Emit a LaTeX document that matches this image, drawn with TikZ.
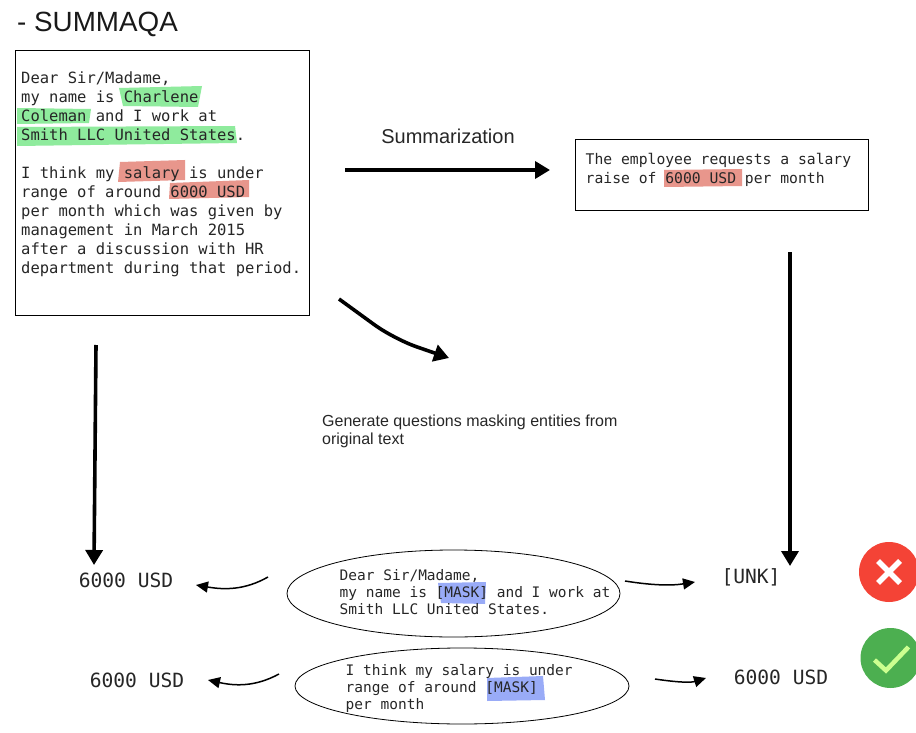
\documentclass[tikz,border=0pt]{standalone}
\usepackage{fontspec}
\setmainfont{Liberation Sans}
\newfontfamily\monof{DejaVu Sans Mono}
\usetikzlibrary{arrows.meta,shapes.geometric}
\definecolor{hlgreen}{HTML}{8FEB9D}
\definecolor{hlred}{HTML}{E8968C}
\definecolor{hlblue}{HTML}{99ABF7}
\definecolor{badred}{HTML}{F44336}
\definecolor{okgreen}{HTML}{4CAF50}
\definecolor{okcheck}{HTML}{CCFF90}
\tikzset{
 x=1pt,y=-1pt,
 boxshape/.style={draw=black,line width=0.9pt,fill=white,inner sep=0pt,anchor=north west},
 ell/.style={ellipse,draw=black,line width=0.8pt,inner sep=0pt},
 txtbig/.style={anchor=north west,inner sep=0pt,align=left,text=black!85,font=\monof\fontsize{15.5}{19}\selectfont},
 txtsum/.style={anchor=north west,inner sep=0pt,align=left,text=black!85,font=\monof\fontsize{14.7}{19}\selectfont},
 txtell/.style={anchor=north west,inner sep=0pt,align=left,text=black!85,font=\monof\fontsize{14.5}{17}\selectfont},
 answer/.style={inner sep=0pt,text=black!85,font=\monof\fontsize{19.6}{22}\selectfont},
 bigarrow/.style={line width=3.6pt,-{Triangle[length=15pt,width=17pt]}},
 smallarrow/.style={line width=1.5pt,-{Triangle[length=12pt,width=11pt]}},
 badge/.style={circle,inner sep=0pt,minimum size=60pt},
}
\begin{document}
\begin{tikzpicture}
\useasboundingbox (0,0) rectangle (916,733);
\clip (0,0) rectangle (916,733);
\node[anchor=west,inner sep=0pt,font=\fontsize{27.8}{30}\selectfont,text=black!90] (title) at (17,24) {- SUMMAQA};
% source box
\node[boxshape,minimum width=294pt,minimum height=265pt] (src) at (14.5,50) {};
\fill[hlgreen] (119,88)--(202,86)--(198,107)--(123,106)--cycle;
\fill[hlgreen] (17,108)--(91,109)--(89,123)--(17,124)--cycle;
\fill[hlgreen] (17,127)--(235,126)--(237,143)--(17,146)--cycle;
\fill[hlred] (120,162)--(185,160)--(185,180)--(118,182)--cycle;
\fill[hlred] (170,183)--(249,180)--(249,197)--(169,199)--cycle;
\node[txtbig] (srctext) at (21,72) {Dear Sir/Madame,\\my name is Charlene\\Coleman and I work at\\Smith LLC United States.\\[19pt]I think my salary is under\\range of around 6000 USD\\per month which was given by\\management in March 2015\\after a discussion with HR\\department during that period.};
% summary box
\node[boxshape,minimum width=293pt,minimum height=71pt] (sum) at (574.5,139) {};
\fill[hlred] (664,170)--(742,169)--(742,186)--(664,187)--cycle;
\node[txtsum] (sumtext) at (585.5,153) {The employee requests a salary\\raise of 6000 USD per month};
\node[anchor=center,inner sep=0pt,font=\fontsize{20}{24}\selectfont,text=black!85] (sumlabel) at (448,136) {Summarization};
\node[anchor=north west,inner sep=0pt,align=left,font=\fontsize{16}{18}\selectfont,text=black!85] (genlabel) at (322,415) {Generate questions masking entities from\\original text};
% ellipses
\node[ell,minimum width=333pt,minimum height=87pt] (e1) at (453.5,593.5) {};
\node[ell,minimum width=334pt,minimum height=76pt] (e2) at (462,686) {};
\fill[hlblue] (438,583)--(486,582)--(485,604)--(441,603)--cycle;
\fill[hlblue] (487,678)--(543,676)--(545,700)--(487,701)--cycle;
\node[txtell] (e1text) at (339.5,569) {Dear Sir/Madame,\\my name is [MASK] and I work at\\Smith LLC United States.};
\node[txtell] (e2text) at (345.5,664) {I think my salary is under\\range of around [MASK]\\per month};
% answers
\node[answer] (a1) at (126,580) {6000 USD};
\node[answer] (a2) at (137,680) {6000 USD};
\node[answer] (unk) at (751,577) {[UNK]};
\node[answer] (a3) at (781,677) {6000 USD};
% badges
\node[badge,fill=badred] (bad) at (889,572) {};
\node[badge,fill=okgreen] (good) at (890.5,658) {};
\draw[white,line width=5.5pt] ([shift={(-11,-11)}]bad.center) -- ([shift={(11,11)}]bad.center);
\draw[white,line width=5.5pt] ([shift={(11,-11)}]bad.center) -- ([shift={(-11,11)}]bad.center);
\draw[okcheck,line width=4.5pt] ([shift={(-16,2)}]good.center) -- ([shift={(-4.5,12.5)}]good.center) -- ([shift={(18,-11)}]good.center);
% free connector ends
\coordinate (p1) at (345,170);
\coordinate (p2) at (550,170);
\coordinate (p3) at (790,252);
\coordinate (p4) at (790,566);
\coordinate (p5) at (96,345);
\coordinate (p6) at (94,565);
\coordinate (p7) at (339,299);
\coordinate (p8) at (449,358);
\draw[bigarrow] (p1) -- (p2);
\draw[bigarrow] (p3) -- (p4);
\draw[bigarrow] (p5) -- (p6);
\draw[bigarrow,rounded corners=24pt] (p7) -- (394,339) -- (p8);
\coordinate (q1) at (268,577);
\coordinate (q2) at (196,585);
\coordinate (q3) at (625,581);
\coordinate (q4) at (695,582);
\coordinate (q5) at (279,674);
\coordinate (q6) at (208,680);
\coordinate (q7) at (655,679);
\coordinate (q8) at (706,678);
\draw[smallarrow] (q1) .. controls (245,590) and (225,590) .. (q2);
\draw[smallarrow] (q3) .. controls (650,585) and (670,586) .. (q4);
\draw[smallarrow] (q5) .. controls (255,687) and (235,686) .. (q6);
\draw[smallarrow] (q7) .. controls (675,682) and (690,683) .. (q8);
\end{tikzpicture}
\end{document}
